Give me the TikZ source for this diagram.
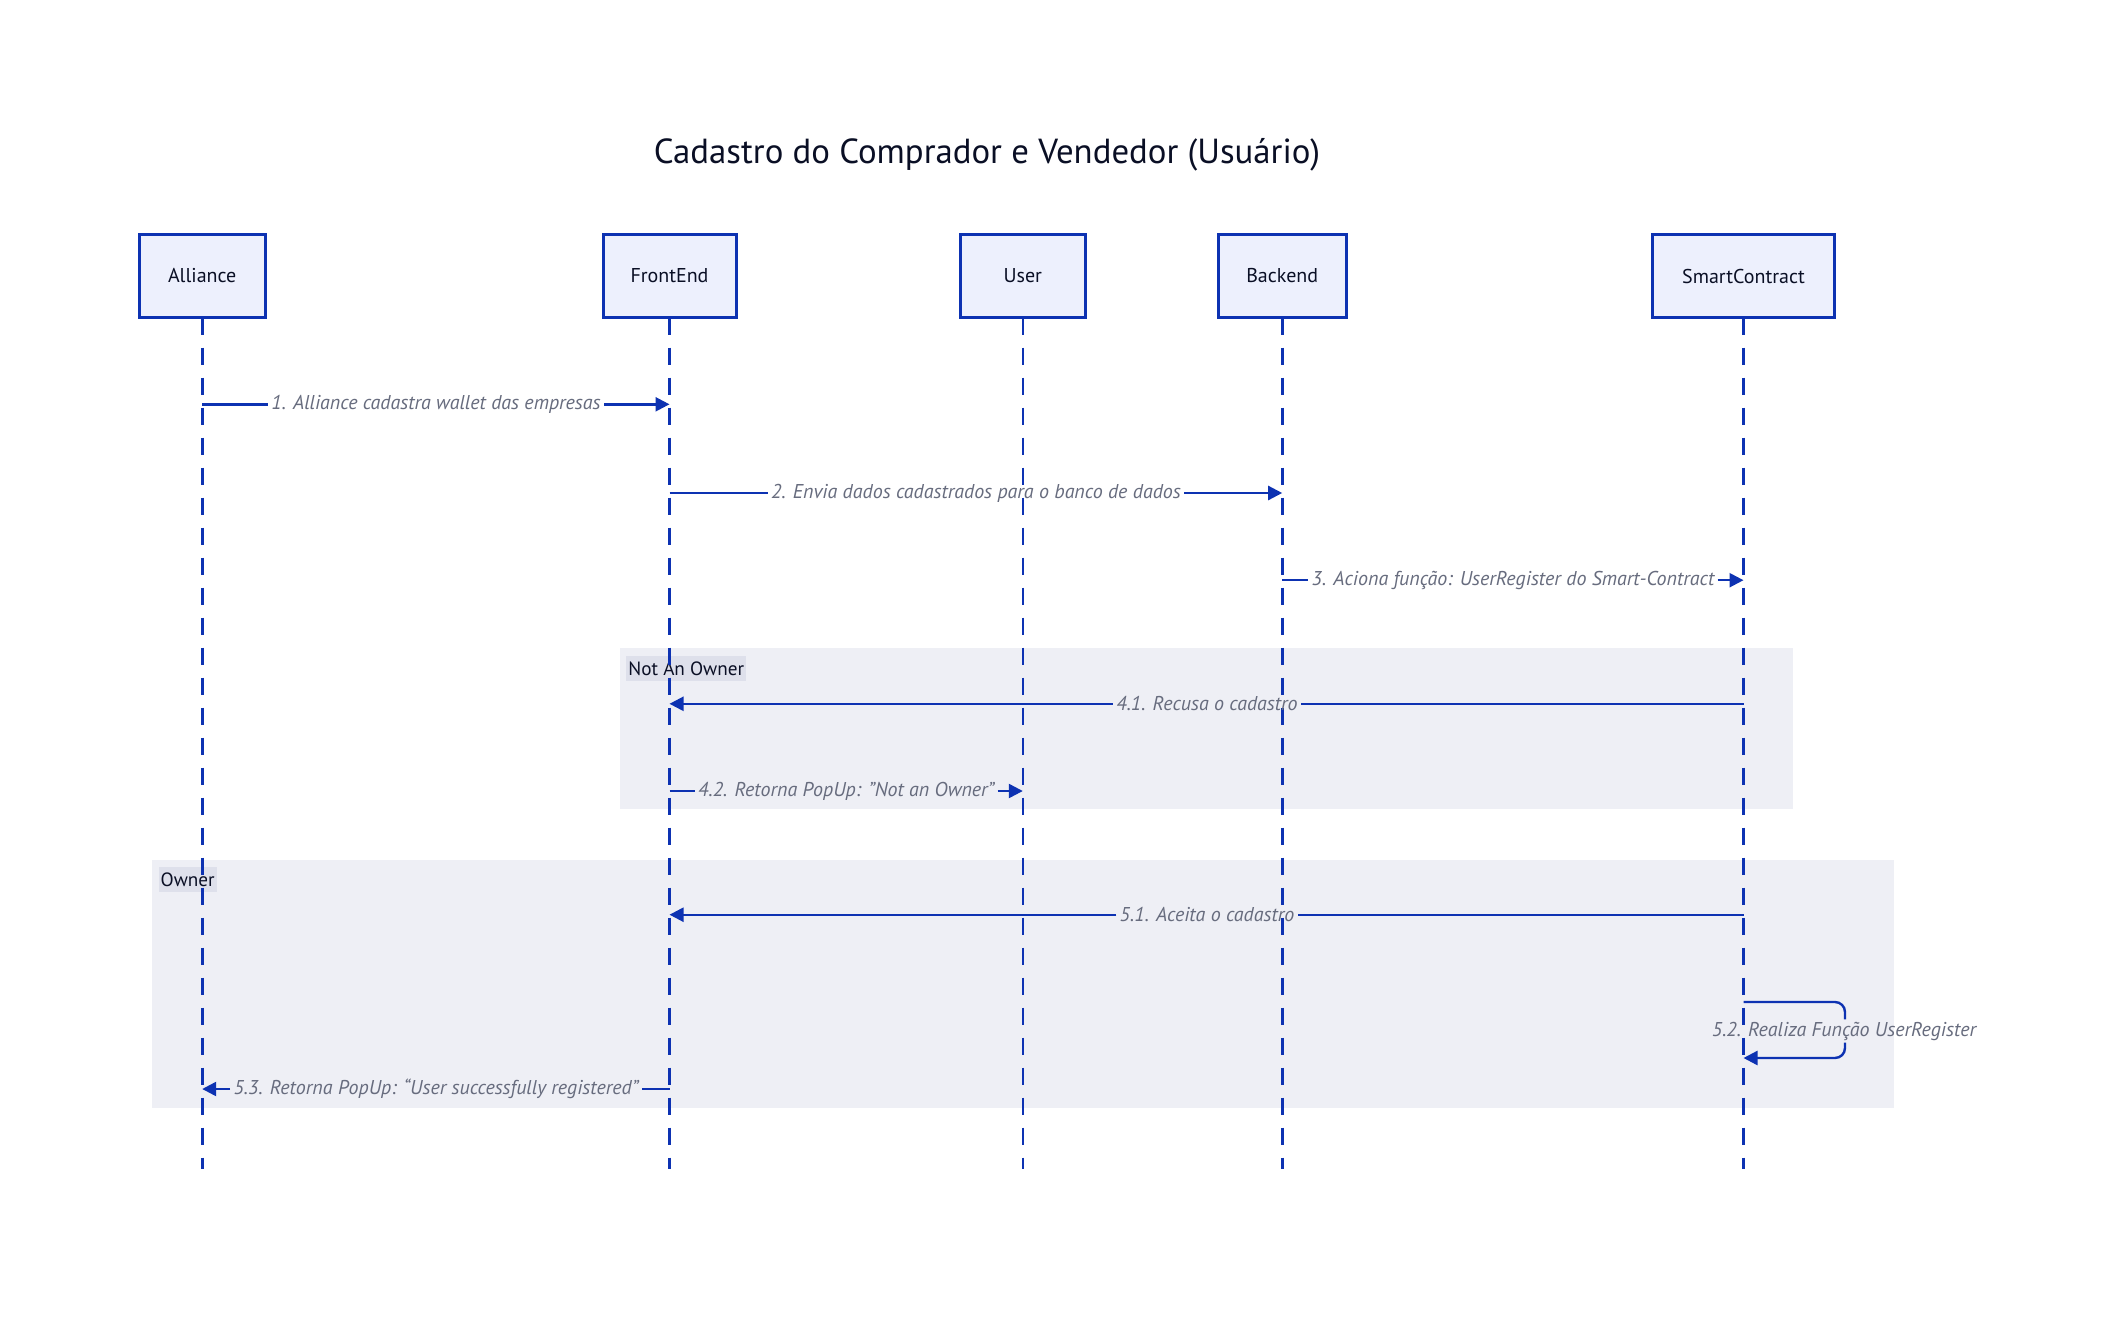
\documentclass[tikz,border=0pt]{standalone}
\usepackage{fontspec}
\setmainfont{PT Sans}
\usetikzlibrary{arrows.meta}
\definecolor{ln}{HTML}{0D32B2}
\definecolor{actfill}{HTML}{EDF0FD}
\definecolor{acttxt}{HTML}{0A0F25}
\definecolor{msgtxt}{HTML}{676C7E}
\definecolor{grpfill}{HTML}{EEEFF5}
\definecolor{glabfill}{HTML}{DEE0EB}
\begin{document}
\begin{tikzpicture}[x=0.5pt,y=-0.5pt,
  actor/.style={draw=ln, line width=1.5pt, fill=actfill, minimum height=41.7pt,
    text=acttxt, font=\fontsize{10}{12}\selectfont, inner sep=0pt},
  life/.style={draw=ln, line width=1.3pt, dash pattern=on 8.65pt off 6.35pt},
  msg/.style={draw=ln, line width=1.2pt},
  arr/.style={msg, -{Triangle[length=7pt,width=7pt]}},
  mlab/.style={font=\fontsize{10}{12}\selectfont\itshape, text=msgtxt, inner xsep=1.5pt, inner ysep=1pt},
  grp/.style={fill=grpfill},
  glab/.style={fill=glabfill, font=\fontsize{9.6}{12}\selectfont, text=acttxt,
    inner xsep=1pt, inner ysep=0pt, minimum height=12.8pt, anchor=west}]
\useasboundingbox (0,0) rectangle (2106,1317);
\fill[white] (0,0) rectangle (2106,1317);

% title
\node[font=\fontsize{17.4}{20}\selectfont, text=acttxt] (title) at (987,154.5) {Cadastro do Comprador e Vendedor (Usuário)};

% groups
\fill[grp] (152.3,859.5) rectangle (1893.5,1107.7);
\fill[grp] (620,648.3) rectangle (1793.3,809);
\node[glab] (gowner) at (158.3,879.5) {Owner};
\node[glab] (gnot) at (626,668.3) {Not An Owner};

% lifeline ends
\coordinate (aE) at (202.2,1168.5);
\coordinate (fE) at (669.5,1168.5);
\coordinate (uE) at (1022.8,1168.5);
\coordinate (bE) at (1282.2,1168.5);
\coordinate (sE) at (1743.5,1168.5);

% lifelines
\draw[life] (202.2,317.7) -- (aE);
\draw[life] (669.5,317.7) -- (fE);
\draw[life] (1022.8,317.7) -- (uE);
\draw[life] (1282.2,317.7) -- (bE);
\draw[life] (1743.5,317.7) -- (sE);

% actors
\node[actor, minimum width=62.85pt] (a) at (202.2,276) {Alliance};
\node[actor, minimum width=66.5pt] (f) at (669.5,276) {FrontEnd};
\node[actor, minimum width=62.5pt] (u) at (1022.8,276) {User};
\node[actor, minimum width=64pt] (b) at (1282.2,276) {Backend};
\node[actor, minimum width=90.8pt] (s) at (1743.5,276) {SmartContract};

% 1
\node[mlab] (l1) at (436,404.3) {1. Alliance cadastra wallet das empresas};
\draw[msg] (a |- l1) -- (l1.west);
\draw[arr] (l1.east) -- (f |- l1);
% 2
\node[mlab] (l2) at (976,493) {2. Envia dados cadastrados para o banco de dados};
\draw[msg] (f |- l2) -- (l2.west);
\draw[arr] (l2.east) -- (b |- l2);
% 3
\node[mlab] (l3) at (1513,580.2) {3. Aciona função: UserRegister do Smart-Contract};
\draw[msg] (b |- l3) -- (l3.west);
\draw[arr] (l3.east) -- (s |- l3);
% 4.1
\node[mlab] (l41) at (1207,703.8) {4.1. Recusa o cadastro};
\draw[msg] (s |- l41) -- (l41.east);
\draw[arr] (l41.west) -- (f |- l41);
% 4.2
\node[mlab] (l42) at (846.2,791) {4.2. Retorna PopUp: ”Not an Owner”};
\draw[msg] (f |- l42) -- (l42.west);
\draw[arr] (l42.east) -- (u |- l42);
% 5.1
\node[mlab] (l51) at (1207,914.7) {5.1. Aceita o cadastro};
\draw[msg] (s |- l51) -- (l51.east);
\draw[arr] (l51.west) -- (f |- l51);
% 5.2 self loop
\node[mlab] (l52) at (1844,1031) {5.2. Realiza Função UserRegister};
\coordinate (loopT) at (1845,1002);
\coordinate (loopB) at (1845,1058);
\draw[msg, rounded corners=5pt] (s |- loopT) -- (loopT) -- (l52.north -| loopT);
\draw[arr, rounded corners=5pt] (l52.south -| loopT) -- (loopB) -- (s |- loopB);
% 5.3
\node[mlab] (l53) at (436,1089) {5.3. Retorna PopUp: “User successfully registered”};
\draw[msg] (f |- l53) -- (l53.east);
\draw[arr] (l53.west) -- (a |- l53);
\end{tikzpicture}
\end{document}
